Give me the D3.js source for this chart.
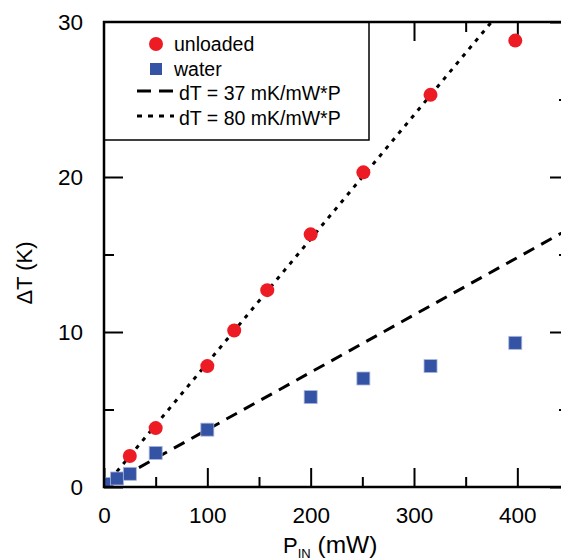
<!DOCTYPE html>
<html>
<head>
<meta charset="utf-8">
<script src="https://cdn.jsdelivr.net/npm/d3@7"></script>
<style>
  body { margin: 0; background: #fff; }
  svg { display: block; font-family: Arial, "Liberation Sans", sans-serif; }
</style>
</head>
<body>
<div id="chart"></div>
<script>
// measured points (P in mW, dT in K)
var unloadedP = [25, 50, 100, 126, 158, 200, 251, 316, 398];
var unloadedT = [2.0, 3.8, 7.8, 10.1, 12.7, 16.3, 20.3, 25.3, 28.8];
var waterP = [3, 12.6, 25, 50, 100, 200, 251, 316, 398];
var waterT = [0.2, 0.55, 0.85, 2.2, 3.7, 5.8, 7.0, 7.8, 9.3];

// linear fits dT = k * P (K per mW)
var fitSlopes = [0.037, 0.080];
var fitLabels = ["dT = 37 mK/mW*P", "dT = 80 mK/mW*P"];
var fitRange = [0, 450];

var xMajor = [0, 100, 200, 300, 400];
var xMinor = [50, 150, 250, 350];
var yMajor = [0, 10, 20, 30];
var yMinor = [5, 15, 25];

var width = 561, height = 560;
// plot box edges (right edge sits just outside the window)
var pL = 104, pT = 22, pR = 569, pB = 487;

var svg = d3.select("#chart").append("svg")
    .attr("width", width)
    .attr("height", height);

var x = d3.scaleLinear().domain([0, 450]).range([pL, pR]);
var y = d3.scaleLinear().domain([0, 30]).range([pB, pT]);

svg.append("defs").append("clipPath")
    .attr("id", "plot")
    .append("rect")
    .attr("x", pL).attr("y", pT)
    .attr("width", pR - pL).attr("height", pB - pT);

function axisStyle(g) {
    g.select(".domain").remove();
    g.selectAll(".tick line").attr("stroke", "#000").attr("stroke-width", 2);
    g.selectAll(".tick text").attr("fill", "#000").style("font-size", "22.5px");
}

// bottom + top
svg.append("g")
    .attr("transform", "translate(0," + pB + ")")
    .call(d3.axisBottom(x).tickValues(xMajor).tickSize(-19).tickPadding(20))
    .call(axisStyle);
svg.append("g")
    .attr("transform", "translate(0," + pB + ")")
    .call(d3.axisBottom(x).tickValues(xMinor).tickSize(-10).tickFormat(""))
    .call(axisStyle);
svg.append("g")
    .attr("transform", "translate(0," + pT + ")")
    .call(d3.axisTop(x).tickValues(xMajor).tickSize(-19).tickFormat(""))
    .call(axisStyle);
svg.append("g")
    .attr("transform", "translate(0," + pT + ")")
    .call(d3.axisTop(x).tickValues(xMinor).tickSize(-10).tickFormat(""))
    .call(axisStyle);

// left + right
svg.append("g")
    .attr("transform", "translate(" + pL + ",0)")
    .call(d3.axisLeft(y).tickValues(yMajor).tickSize(-19).tickPadding(21))
    .call(axisStyle);
svg.append("g")
    .attr("transform", "translate(" + pL + ",0)")
    .call(d3.axisLeft(y).tickValues(yMinor).tickSize(-10).tickFormat(""))
    .call(axisStyle);
svg.append("g")
    .attr("transform", "translate(" + pR + ",0)")
    .call(d3.axisRight(y).tickValues(yMajor).tickSize(-19).tickFormat(""))
    .call(axisStyle);
svg.append("g")
    .attr("transform", "translate(" + pR + ",0)")
    .call(d3.axisRight(y).tickValues(yMinor).tickSize(-10).tickFormat(""))
    .call(axisStyle);

// fit lines
var dashes = ["12,8", "4,6"];
var plot = svg.append("g").attr("clip-path", "url(#plot)");
fitSlopes.forEach(function(k, i) {
    plot.append("line")
        .attr("x1", x(fitRange[0])).attr("y1", y(k * fitRange[0]))
        .attr("x2", x(fitRange[1])).attr("y2", y(k * fitRange[1]))
        .attr("stroke", "#000")
        .attr("stroke-width", 3)
        .attr("stroke-dasharray", dashes[i]);
});

// water squares
var sq = 13;
plot.selectAll(".water")
    .data(d3.zip(waterP, waterT))
    .enter().append("rect")
    .attr("x", function(d) { return x(d[0]) - sq / 2; })
    .attr("y", function(d) { return y(d[1]) - sq / 2; })
    .attr("width", sq).attr("height", sq)
    .attr("fill", "#3553a4")
    .attr("stroke", "#a9b6dc")
    .attr("stroke-width", 0.8);

// unloaded circles
plot.selectAll(".unloaded")
    .data(d3.zip(unloadedP, unloadedT))
    .enter().append("circle")
    .attr("cx", function(d) { return x(d[0]); })
    .attr("cy", function(d) { return y(d[1]); })
    .attr("r", 7)
    .attr("fill", "#ed1c24");

// legend
var lg = svg.append("g");
lg.append("rect")
    .attr("x", pL).attr("y", pT)
    .attr("width", 369 - pL).attr("height", 140 - pT)
    .attr("fill", "#fff")
    .attr("stroke", "#000")
    .attr("stroke-width", 1.5);
lg.append("circle").attr("cx", 156).attr("cy", 44).attr("r", 7).attr("fill", "#ed1c24");
lg.append("rect").attr("x", 150).attr("y", 63).attr("width", 12).attr("height", 12).attr("fill", "#3553a4");
lg.append("line").attr("x1", 137).attr("x2", 174).attr("y1", 91).attr("y2", 91)
    .attr("stroke", "#000").attr("stroke-width", 3).attr("stroke-dasharray", "14,8");
lg.append("line").attr("x1", 137).attr("x2", 174).attr("y1", 116).attr("y2", 116)
    .attr("stroke", "#000").attr("stroke-width", 3).attr("stroke-dasharray", "5,6");
var legendText = ["unloaded", "water"].concat(fitLabels);
lg.selectAll(".lt")
    .data(legendText)
    .enter().append("text")
    .attr("x", function(d, i) { return i < 2 ? 174 : 179; })
    .attr("y", function(d, i) { return 51 + i * 24.5; })
    .style("font-size", "19.5px")
    .text(function(d) { return d; });

// frame
svg.append("path")
    .attr("d", "M" + pR + "," + pT + "H" + pL + "V" + pB + "H" + pR)
    .attr("fill", "none").attr("stroke", "#000").attr("stroke-width", 2.5);
svg.append("line")
    .attr("x1", pR).attr("x2", pR).attr("y1", pT).attr("y2", pB)
    .attr("stroke", "#000").attr("stroke-width", 2.5);

// axis titles
var xt = svg.append("text")
    .attr("x", 283).attr("y", 553)
    .style("font-size", "22px");
xt.append("tspan").text("P");
xt.append("tspan").attr("dy", 5).style("font-size", "13px").text("IN");
xt.append("tspan").attr("dy", -5).style("font-size", "24.5px").text(" (mW)");

svg.append("text")
    .attr("transform", "translate(32,273) rotate(-90)")
    .attr("text-anchor", "middle")
    .style("font-size", "22px")
    .text("ΔT (K)");
</script>
</body>
</html>
